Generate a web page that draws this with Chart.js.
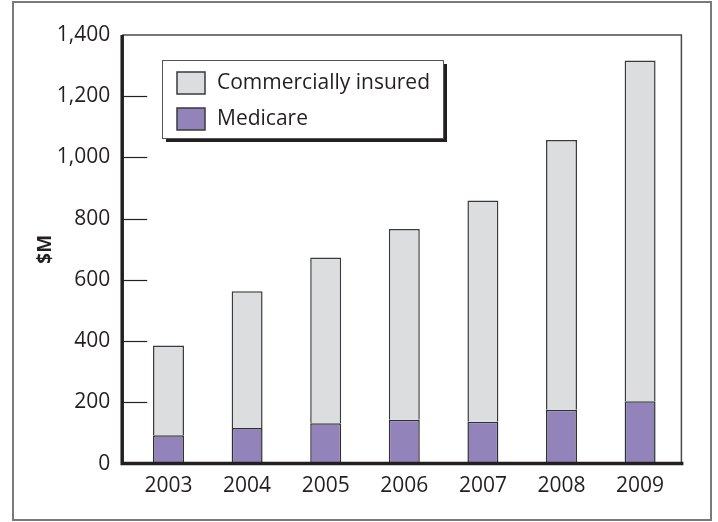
<!DOCTYPE html>
<html>
<head>
<meta charset="utf-8">
<script src="https://cdn.jsdelivr.net/npm/chart.js@4"></script>
<style>
  html, body { margin: 0; padding: 0; background: #fff; }
  #wrap { width: 718px; height: 522px; }
</style>
</head>
<body>
<div id="wrap"><canvas id="spendChart" width="718" height="522"></canvas></div>
<script>
const years = ['2003', '2004', '2005', '2006', '2007', '2008', '2009'];
const medicare = [93, 116, 132, 143, 137, 176, 204];
const commercial = [293, 447, 541, 623, 722, 881, 1113];
const yTicks = [0, 200, 400, 600, 800, 1000, 1200, 1400];

const FONT = "'Open Sans', 'DejaVu Sans', sans-serif";

// outer frame, plot borders, inner tick marks
const framePlugin = {
  id: 'frame',
  beforeDraw(chart) {
    const ctx = chart.ctx;
    ctx.save();
    ctx.fillStyle = '#fff';
    ctx.fillRect(0, 0, chart.width, chart.height);
    ctx.strokeStyle = '#7a7a7a';
    ctx.lineWidth = 2;
    ctx.strokeRect(13, 2, 698, 518);
    ctx.restore();
  },
  afterDatasetsDraw(chart) {
    const ctx = chart.ctx;
    const area = chart.chartArea;
    const y = chart.scales.y;
    const left = area.left - 7;
    const right = area.right + 2;
    const bottom = y.getPixelForValue(0);
    const top = y.getPixelForValue(1400);
    ctx.save();
    // thin top/right border
    ctx.strokeStyle = '#4a4a4a';
    ctx.lineWidth = 1.5;
    ctx.beginPath();
    ctx.moveTo(left, top);
    ctx.lineTo(right, top);
    ctx.lineTo(right, bottom);
    ctx.stroke();
    // tick marks pointing inward
    ctx.strokeStyle = '#231f20';
    ctx.lineWidth = 1.2;
    yTicks.forEach(v => {
      if (v === 0 || v === 1400) return;
      const py = Math.round(y.getPixelForValue(v)) + 0.5;
      ctx.beginPath();
      ctx.moveTo(left, py);
      ctx.lineTo(left + 25, py);
      ctx.stroke();
    });
    // heavy axes
    ctx.strokeStyle = '#231f20';
    ctx.lineWidth = 3.5;
    ctx.beginPath();
    ctx.moveTo(left, top);
    ctx.lineTo(left, bottom);
    ctx.lineTo(right + 2, bottom);
    ctx.stroke();
    ctx.restore();
  }
};

// boxed legend with drop shadow
const legendBoxPlugin = {
  id: 'legendBox',
  afterDraw(chart) {
    const ctx = chart.ctx;
    const x = 162, y = 60, w = 281, h = 78;
    ctx.save();
    ctx.fillStyle = '#231f20';
    ctx.fillRect(x + 4, y + 4, w, h);
    ctx.fillStyle = '#fff';
    ctx.fillRect(x, y, w, h);
    ctx.strokeStyle = '#555';
    ctx.lineWidth = 1;
    ctx.strokeRect(x + 0.5, y + 0.5, w, h);
    const items = [chart.data.datasets[1], chart.data.datasets[0]];
    items.forEach((ds, i) => {
      const sy = 72 + i * 36;
      ctx.fillStyle = ds.backgroundColor;
      ctx.fillRect(177, sy, 28, 22);
      ctx.strokeStyle = '#3a3a3a';
      ctx.lineWidth = 1.5;
      ctx.strokeRect(177, sy, 28, 22);
      ctx.fillStyle = '#231f20';
      ctx.font = '21px ' + FONT;
      ctx.textBaseline = 'middle';
      ctx.fillText(ds.label, 217, sy + 11);
    });
    ctx.restore();
  }
};

const ctx = document.getElementById('spendChart').getContext('2d');
new Chart(ctx, {
  type: 'bar',
  data: {
    labels: years,
    datasets: [
      {
        label: 'Medicare',
        data: medicare,
        backgroundColor: '#9283bb',
        borderColor: '#2f2f2f',
        borderWidth: 1.5,
        borderSkipped: 'bottom'
      },
      {
        label: 'Commercially insured',
        data: commercial,
        backgroundColor: '#dcdddf',
        borderColor: '#3a3a3a',
        borderWidth: 1.5,
        borderSkipped: 'bottom'
      }
    ]
  },
  options: {
    responsive: false,
    animation: false,
    devicePixelRatio: 1,
    layout: {
      padding: { top: 35, right: 38.6, bottom: 0, left: 0 }
    },
    datasets: {
      bar: {
        barPercentage: 0.394,
        categoryPercentage: 1
      }
    },
    plugins: {
      legend: { display: false },
      tooltip: { enabled: false }
    },
    scales: {
      x: {
        stacked: true,
        grid: { display: false, drawTicks: false },
        border: { display: false },
        ticks: {
          color: '#231f20',
          padding: 10,
          font: { size: 21, family: FONT }
        },
        afterFit(scale) {
          scale.height = 58.4;
        }
      },
      y: {
        stacked: true,
        min: 0,
        max: 1400,
        afterBuildTicks(scale) {
          scale.ticks = yTicks.map(v => ({ value: v }));
        },
        grid: { display: false, drawTicks: false },
        border: { display: false },
        ticks: {
          color: '#231f20',
          padding: 19,
          font: { size: 21, family: FONT },
          callback: value => value.toLocaleString('en-US')
        },
        title: {
          display: true,
          text: '$M',
          color: '#231f20',
          font: { size: 19, weight: 'bold', family: FONT },
          padding: { top: 34, bottom: 0 }
        },
        afterFit(scale) {
          scale.width = 129.2;
        }
      }
    }
  },
  plugins: [framePlugin, legendBoxPlugin]
});
</script>
</body>
</html>
